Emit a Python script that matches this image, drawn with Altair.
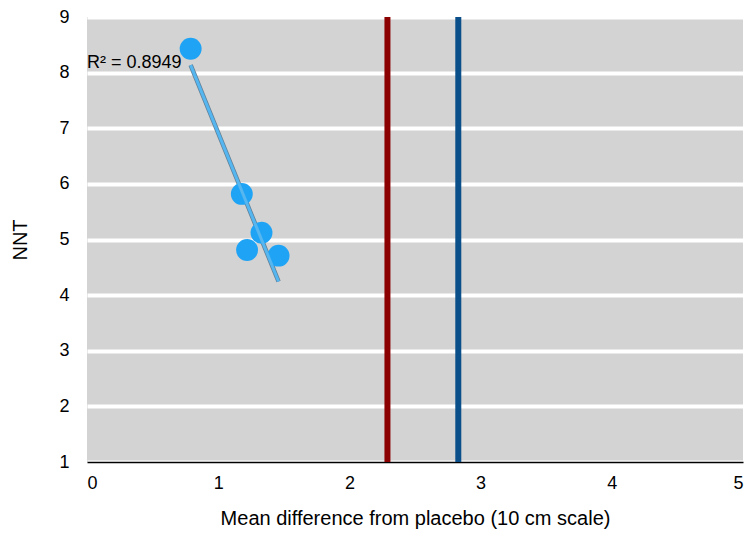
import pandas as pd
import altair as alt

# Study points: mean difference vs NNT
mean_diff = [0.79, 1.18, 1.33, 1.22, 1.46]
nnt = [8.43, 5.82, 5.12, 4.81, 4.71]

# Reference lines
ref_x = [2.29, 2.83]
ref_color = ['#8b0000', '#0b4f8a']

points = pd.DataFrame({'x': mean_diff, 'y': nnt})
refs = pd.DataFrame({'x': ref_x, 'c': ref_color})

FONT = 'Liberation Sans'

base = alt.Chart(points)

x_enc = alt.X('x:Q', scale=alt.Scale(domain=[0, 5], nice=False),
              axis=alt.Axis(title='Mean difference from placebo (10 cm scale)', values=[0, 1, 2, 3, 4, 5],
                            format='d', grid=False, domainColor='black', domainWidth=1.5, ticks=False,
                            labelFontSize=18, titleFontSize=20, labelPadding=12, titlePadding=16,
                            titleFontWeight='normal', labelColor='black', titleColor='black'))
y_enc = alt.Y('y:Q', scale=alt.Scale(domain=[1, 9], nice=False),
              axis=alt.Axis(title='NNT', values=list(range(1, 10)), format='d', grid=True, gridColor='white',
                            gridWidth=4, domain=False, ticks=False, labelFontSize=18, titleFontSize=20,
                            labelPadding=18, titlePadding=28, titleFontWeight='normal',
                            labelColor='black', titleColor='black'))

trend_shadow = base.transform_regression('x', 'y').mark_line(color='#5f7e95', strokeWidth=4.5).encode(
    x=x_enc, y=y_enc)
trend = base.transform_regression('x', 'y').mark_line(color='#55b6f0', strokeWidth=3).encode(
    x='x:Q', y='y:Q')
dots = base.mark_circle(size=480, color='#1fa3f5', opacity=1).encode(x='x:Q', y='y:Q')
rules = alt.Chart(refs).mark_rule(strokeWidth=6).encode(
    x='x:Q', color=alt.Color('c:N', scale=None))
label = alt.Chart(pd.DataFrame({'x': [0.0], 'y': [8.17], 't': ['R² = 0.8949']})).mark_text(
    align='left', fontSize=18, font=FONT, color='black').encode(x='x:Q', y='y:Q', text='t:N')

chart = (trend_shadow + rules + dots + trend + label).properties(
    width=656, height=445,
    autosize=alt.AutoSizeParams(type='none'),
    padding={'left': 79, 'top': 9, 'right': 3, 'bottom': 76},
).configure(font=FONT).configure_view(fill='#d3d3d3', stroke=None)

chart.save("out.html", embed_options={"renderer": "svg", "actions": False})
